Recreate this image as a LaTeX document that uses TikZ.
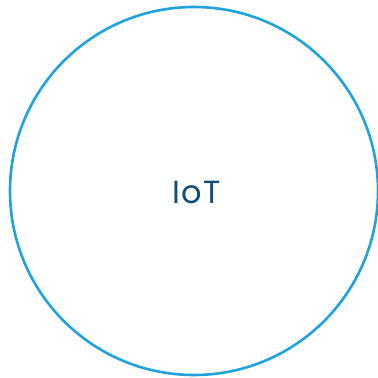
\documentclass[tikz,border=0pt]{standalone}
\usepackage{fontspec}
\setmainfont{Poppins}
\newfontfamily\iotfont[LetterSpace=5]{Poppins}
\usepackage{xcolor}
\definecolor{iotblue}{HTML}{1FA2DE}
\definecolor{iotnavy}{HTML}{0D4C7D}
\tikzset{%
	iot ring/.style={
		draw=iotblue,
		line width=2.6pt
	},
	iot label/.style={
		text=iotnavy,
		font=\iotfont\fontsize{32}{32}\selectfont
	},
}
\begin{document}
\begin{tikzpicture}[x=1pt, y=1pt]
	\useasboundingbox (0,0) rectangle (378,378);
	
	% Ring and label
	\coordinate (C) at (194,187);
	\draw[iot ring] (C) circle (184);
	\node[iot label] (iot) at (196.5,185.5) {IoT};
	
\end{tikzpicture}
\end{document}
